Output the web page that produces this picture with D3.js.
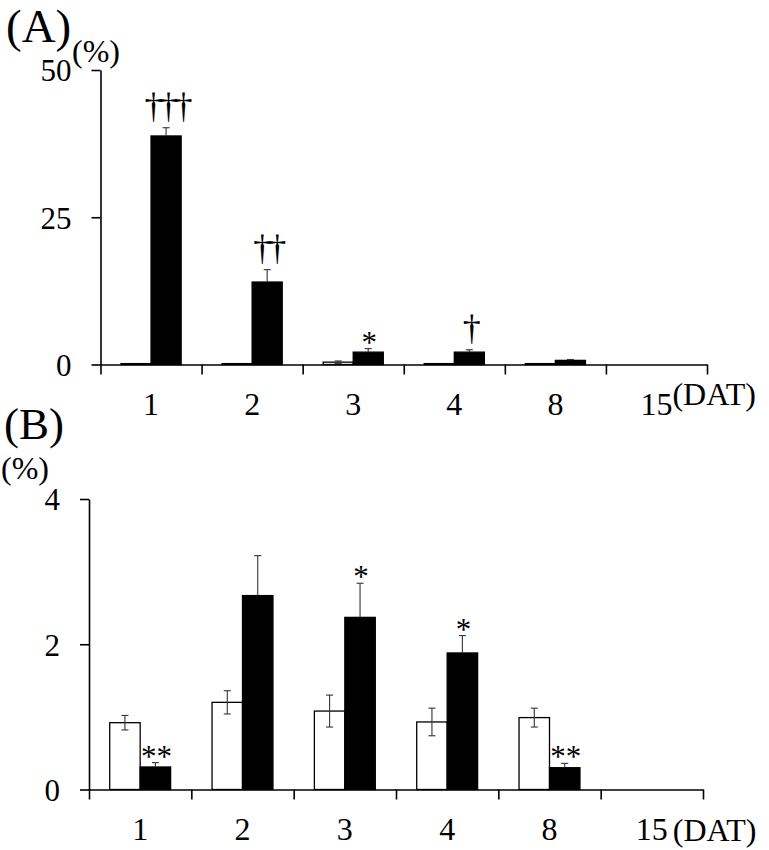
<!DOCTYPE html>
<html>
<head>
<meta charset="utf-8">
<script src="https://cdn.jsdelivr.net/npm/d3@7"></script>
<style>
body { margin: 0; background: #fff; }
text { font-family: "Liberation Serif", "Times New Roman", serif; fill: #000; }
</style>
</head>
<body>
<div id="vis"></div>
<script>
const FRAME_WIDTH = 769;
const FRAME_HEIGHT = 850;
const SERIF = "'Liberation Serif', 'Times New Roman', serif";

// data
const DAYS = ["1", "2", "3", "4", "8", "15"];
const SERIES = ["control", "treated"];

const A_CONTROL = [0.15, 0.15, 0.4, 0.15, 0.15, 0];
const A_CONTROL_ERR = [0, 0, 0.2, 0, 0, 0];
const A_TREATED = [38.8, 14.0, 2.1, 2.1, 0.7, 0];
const A_TREATED_ERR = [1.4, 2.1, 0.6, 0.4, 0.15, 0];
const A_MARKS = ["†††", "††", "*", "†", "", ""];
const A_TICKS = [0, 25, 50];

const B_CONTROL = [0.92, 1.2, 1.08, 0.93, 0.99, 0];
const B_CONTROL_ERR = [0.1, 0.16, 0.22, 0.19, 0.13, 0];
const B_TREATED = [0.31, 2.67, 2.37, 1.88, 0.30, 0];
const B_TREATED_ERR = [0.06, 0.55, 0.47, 0.24, 0.06, 0];
const B_MARKS = ["**", "", "*", "*", "**", ""];
const B_TICKS = [0, 2, 4];

const FRAME = d3.select("#vis")
                .append("svg")
                .attr("width", FRAME_WIDTH)
                .attr("height", FRAME_HEIGHT);

function build_panel(p) {

    const rows = DAYS.map((d, i) => ({
        day: d,
        control: p.control[i], controlErr: p.controlErr[i],
        treated: p.treated[i], treatedErr: p.treatedErr[i],
        mark: p.marks[i]
    }));

    const X_SCALE = d3.scaleBand().domain(DAYS).range([p.x0, p.x1]);
    const X_EDGE = d3.scaleLinear().domain([0, DAYS.length]).range([p.x0, p.x1]);
    const SUB = d3.scaleBand().domain(SERIES).range([0, X_SCALE.bandwidth()]).paddingOuter(0.68);
    const Y_SCALE = d3.scaleLinear().domain([0, p.max]).range([p.y0, p.y1]);

    const g = FRAME.append("g");

    // bars
    const bars = [];
    rows.forEach((r) => {
        SERIES.forEach((s) => {
            if (r[s] > 0) bars.push({day: r.day, s: s, v: r[s], e: r[s + "Err"]});
        });
    });

    g.selectAll(".bar")
        .data(bars)
        .enter()
        .append("rect")
            .attr("x", (d) => X_SCALE(d.day) + SUB(d.s))
            .attr("width", SUB.bandwidth())
            .attr("y", (d) => Y_SCALE(d.v))
            .attr("height", (d) => Y_SCALE(0) - Y_SCALE(d.v))
            .attr("fill", (d) => d.s == "control" ? "#fff" : "#000")
            .attr("stroke", "#000")
            .attr("stroke-width", 1.3);

    // error bars
    const errs = bars.filter((d) => d.e > 0);
    const cx = (d) => X_SCALE(d.day) + SUB(d.s) + SUB.bandwidth() / 2;
    const lo = (d) => d.s == "control" ? Y_SCALE(d.v - d.e) : Y_SCALE(d.v);
    const hi = (d) => Y_SCALE(d.v + d.e);

    g.selectAll(".err")
        .data(errs)
        .enter()
        .append("line")
            .attr("x1", cx).attr("x2", cx)
            .attr("y1", lo).attr("y2", hi)
            .attr("stroke", "#333").attr("stroke-width", 1.1);

    g.selectAll(".capTop")
        .data(errs)
        .enter()
        .append("line")
            .attr("x1", (d) => cx(d) - 3.5).attr("x2", (d) => cx(d) + 3.5)
            .attr("y1", hi).attr("y2", hi)
            .attr("stroke", "#333").attr("stroke-width", 1.1);

    g.selectAll(".capLow")
        .data(errs.filter((d) => d.s == "control"))
        .enter()
        .append("line")
            .attr("x1", (d) => cx(d) - 3.5).attr("x2", (d) => cx(d) + 3.5)
            .attr("y1", lo).attr("y2", lo)
            .attr("stroke", "#333").attr("stroke-width", 1.1);

    // significance marks
    g.selectAll(".mark")
        .data(rows.filter((r) => r.mark != ""))
        .enter()
        .append("text")
            .attr("x", (r) => X_SCALE(r.day) + SUB("treated") + SUB.bandwidth() / 2 + 1)
            .attr("y", (r) => Y_SCALE(r.treated + r.treatedErr) + (r.mark.includes("*") ? 4 : -10))
            .attr("text-anchor", "middle")
            .attr("font-size", (r) => r.mark.includes("*") ? 31 : 36)
            .attr("letter-spacing", (r) => r.mark.includes("*") ? 0 : -3)
            .text((r) => r.mark);

    // y axis
    const yAxis = g.append("g")
        .attr("transform", "translate(" + p.x0 + ",0)")
        .call(d3.axisLeft(Y_SCALE).tickValues(p.ticks).tickFormat(d3.format("d"))
                .tickSize(9).tickSizeOuter(0).tickPadding(20));
    yAxis.attr("font-family", SERIF).attr("font-size", 31);
    yAxis.selectAll("path, line").attr("stroke", "#000").attr("stroke-width", 1.6);
    yAxis.selectAll("text").attr("dy", "0.35em");

    // x axis, ticks on the day boundaries
    const xAxis = g.append("g")
        .attr("transform", "translate(0," + p.y0 + ")")
        .call(d3.axisBottom(X_EDGE).tickValues(d3.range(DAYS.length + 1)).tickSize(10).tickSizeOuter(0).tickFormat(""));
    xAxis.selectAll("path, line").attr("stroke", "#000").attr("stroke-width", 1.6);

    // day labels centred in each band
    const xLabels = g.append("g")
        .attr("transform", "translate(0," + p.y0 + ")")
        .call(d3.axisBottom(X_SCALE).tickSize(0).tickPadding(28));
    xLabels.select(".domain").remove();
    xLabels.attr("font-family", SERIF).attr("font-size", 32);

    g.append("text")
        .attr("x", X_SCALE("15") + X_SCALE.bandwidth() / 2 + p.datDx)
        .attr("y", p.datY)
        .attr("font-size", 32)
        .text("(DAT)");

    g.append("text")
        .attr("x", p.titleX).attr("y", p.titleY)
        .attr("font-size", p.titleSize)
        .text(p.title);

    g.append("text")
        .attr("x", p.unitX).attr("y", p.unitY)
        .attr("font-size", 32)
        .text("(%)");
}

build_panel({
    control: A_CONTROL, controlErr: A_CONTROL_ERR,
    treated: A_TREATED, treatedErr: A_TREATED_ERR,
    marks: A_MARKS, ticks: A_TICKS, max: 50,
    x0: 100.5, x1: 707, y0: 364.5, y1: 70,
    datDx: 16, datY: 405,
    title: "(A)", titleX: 6, titleY: 42, titleSize: 47,
    unitX: 72, unitY: 62
});

build_panel({
    control: B_CONTROL, controlErr: B_CONTROL_ERR,
    treated: B_TREATED, treatedErr: B_TREATED_ERR,
    marks: B_MARKS, ticks: B_TICKS, max: 4,
    x0: 89, x1: 703, y0: 789.5, y1: 499,
    datDx: 21, datY: 841,
    title: "(B)", titleX: 4, titleY: 439, titleSize: 45,
    unitX: 1, unitY: 479
});
</script>
</body>
</html>
